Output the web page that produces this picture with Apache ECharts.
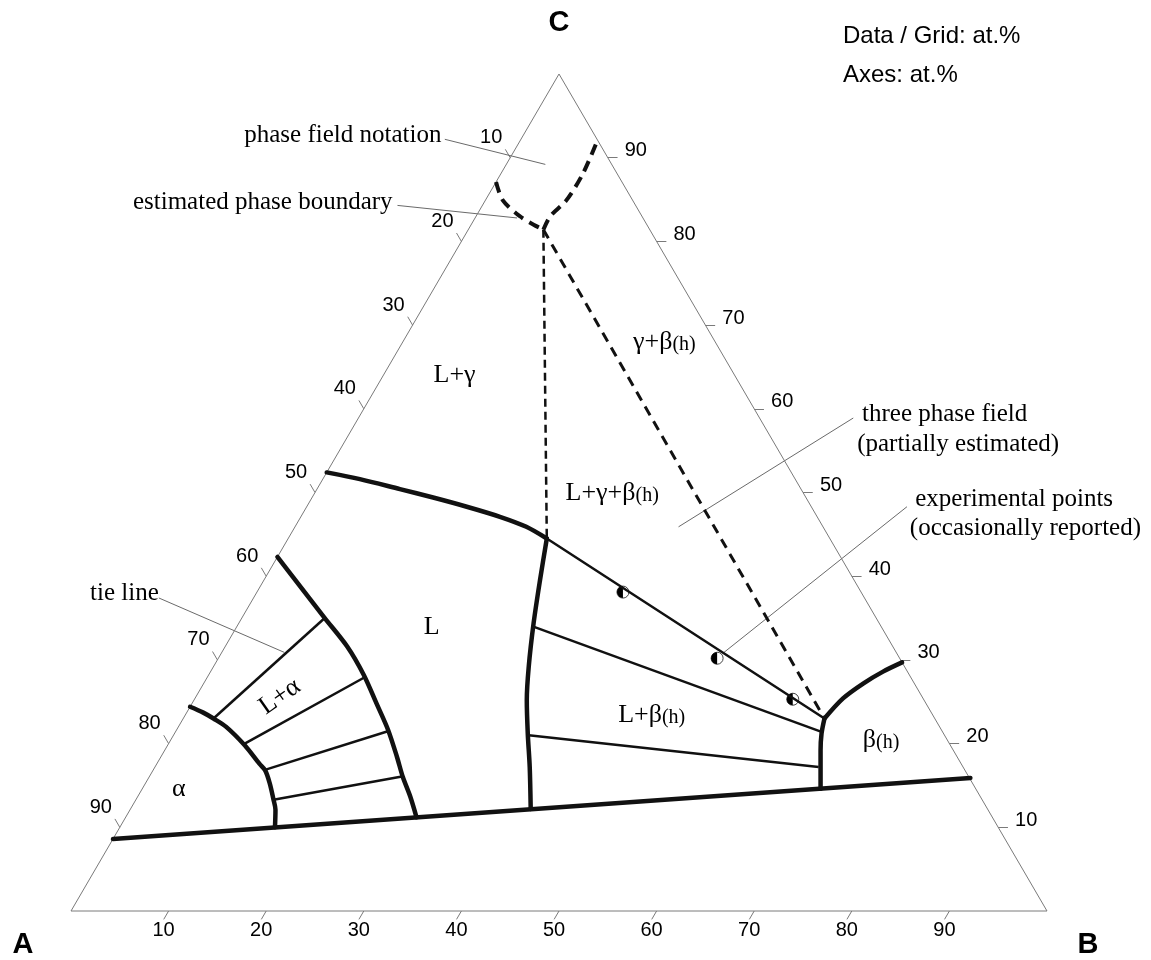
<!DOCTYPE html>
<html>
<head>
<meta charset="utf-8">
<title>Ternary phase diagram</title>
<script src="https://cdn.jsdelivr.net/npm/echarts@6/dist/echarts.min.js"></script>
<style>
    html, body { margin: 0; padding: 0; background: #fff; }
    #chart { width: 1151px; height: 960px; }
</style>
</head>
<body>
<div id="chart"></div>
<script>
// every composition is [B at.%, C at.%]; A = 100 - B - C
const tickValues = [10, 20, 30, 40, 50, 60, 70, 80, 90];
const cornerLabels = ['A', 'B', 'C'];
const cornerPoints = [[0, 0], [100, 0], [0, 100]];

// solid phase boundaries
const solidusBottom = [[0, 8.6], [84.2, 15.9]];
const alphaBoundary = [[0, 24.4], [1.7, 23.7], [3.1, 23.0], [4.9, 22.0], [7.9, 19.8], [10.5, 17.6],
    [11.5, 16.8], [12.7, 15.3], [14.1, 13.3], [14.9, 12.1], [15.9, 10.0]];
const liquidAlpha = [[0, 42.3], [2.8, 39.9], [8.5, 35.0], [12.5, 31.6], [15.9, 28.2], [18.9, 24.8],
    [21.7, 21.6], [24.2, 18.4], [26.0, 16.0], [27.9, 13.7], [29.8, 11.2]];
const liquidGamma = [[0, 52.4], [3.8, 51.6], [8.5, 50.4], [12.4, 49.4], [16.4, 48.3], [20.4, 47.1],
    [23.7, 45.9], [26.5, 44.5]];
const liquidBeta = [[26.5, 44.5], [28.3, 39.5], [30.2, 34.4], [32.3, 29.2], [34.1, 25.2], [36.2, 21.2],
    [38.4, 17.2], [41.0, 12.2]];
const threePhaseEdge = [[26.5, 44.5], [65.7, 23.0]];
const betaUpper = [[70.3, 29.7], [68.9, 28.6], [67.6, 27.2], [66.4, 25.4], [65.7, 23.0]];
const betaLower = [[65.7, 23.0], [66.3, 21.2], [67.2, 19.2], [68.2, 17.2], [69.5, 14.6]];

// tie lines
const alphaTies = [
    [[3.1, 23.0], [8.5, 35.0]],
    [[7.8, 20.0], [16.1, 27.9]],
    [[11.3, 16.8], [21.8, 21.5]],
    [[14.1, 13.3], [26.0, 16.1]]
];
const betaTies = [
    [[30.3, 34.0], [66.2, 21.4]],
    [[36.4, 21.0], [68.0, 17.2]]
];

// estimated (dashed) boundaries
const estVertical = [[7.7, 81.4], [26.5, 44.5]];
const estDiagonal = [[7.7, 81.4], [65.7, 23.0]];
const estLeft = [[0, 87.1], [1.8, 84.9], [4.5, 83.0], [6.4, 82.0], [7.7, 81.4]];
const estRight = [[7.7, 81.4], [7.6, 83.0], [8.3, 84.9], [8.4, 88.1], [7.9, 92.1]];

const expPoints = [[37.5, 38.1], [51.1, 30.2], [61.3, 25.3]];

// annotation leader lines
const leaders = [
    [[-7.8, 92.2], [4.0, 89.2]],
    [[-8.7, 84.3], [4.3, 82.8]],
    [[-9.7, 37.4], [6.4, 30.9]],
    [[50.7, 58.9], [39.3, 45.9]],
    [[61.5, 48.3], [51.4, 30.8]]
];
const noteTexts = ['phase field notation', 'estimated phase boundary', 'tie line',
    'three phase field', '(partially estimated)', 'experimental points', '(occasionally reported)'];
const notePoints = [[-8.4, 92.7], [-9.4, 84.7], [-10.0, 38.0], [51.4, 59.3], [52.7, 55.7], [61.9, 49.2], [63.1, 45.7]];
const noteAlign = ['right', 'right', 'right', 'left', 'left', 'left', 'left'];

// phase field names
const phaseNames = ['{m|L+γ}', '{m|γ+β}{s|(h)}', '{m|L+γ+β}{s|(h)}', '{m|L}', '{m|L+α}', '{m|α}', '{m|L+β}{s|(h)}', '{m|β}{s|(h)}'];
const phasePoints = [[7.3, 64.0], [26.8, 68.0], [30.5, 49.9], [20.0, 33.9], [8.6, 25.6], [3.8, 14.5], [47.8, 23.4], [72.8, 20.4]];
const phaseRotate = [0, 0, 0, 0, 35, 0, 0, 0];

const toXY = p => [p[0] + p[1] / 2, p[1]];

const SERIF = 'Liberation Serif';
const SANS = 'Liberation Sans';
const INK = '#111111';

function curve(pts, width, extra) {
    return Object.assign({
        type: 'line',
        data: pts.map(toXY),
        showSymbol: false,
        symbol: 'none',
        clip: false,
        silent: true,
        lineStyle: { color: INK, width: width, cap: 'round', join: 'round' }
    }, extra || {});
}

function segments(list, color, width) {
    return {
        type: 'lines',
        coordinateSystem: 'cartesian2d',
        polyline: false,
        clip: false,
        silent: true,
        lineStyle: { color: color, width: width, opacity: 1, curveness: 0 },
        data: list.map(s => ({ coords: s.map(toXY) }))
    };
}

// tick marks on each side
const tickMarks = [];
tickValues.forEach(v => {
    tickMarks.push([[v, 0], [v, -1]]); // B axis (bottom)
    tickMarks.push([[100 - v, v], [101 - v, v]]); // C axis (right)
    tickMarks.push([[0, 100 - v], [-1, 101 - v]]); // A axis (left)
});

// invisible anchor points that only carry text
function textLayer(data, label) {
    return {
        type: 'scatter',
        clip: false,
        silent: true,
        symbolSize: 1,
        itemStyle: { color: 'rgba(0,0,0,0)', opacity: 1 },
        label: Object.assign({
            show: true,
            position: 'inside',
            formatter: p => p.name,
            color: '#000',
            textBorderWidth: 0,
            textShadowBlur: 0
        }, label),
        data: data
    };
}

const tickFont = { fontFamily: SANS, fontSize: 20 };

const rich = {
    m: { fontFamily: SERIF, fontSize: 26, color: '#000' },
    s: { fontFamily: SERIF, fontSize: 20, color: '#000', padding: [5, 0, 0, 0] }
};

const option = {
    animation: false,
    backgroundColor: '#ffffff',
    grid: { left: 71, top: 74, width: 976, height: 837 },
    xAxis: { type: 'value', min: 0, max: 100, show: false },
    yAxis: { type: 'value', min: 0, max: 100, show: false },
    graphic: [
        { type: 'text', x: 843, y: 36, style: { text: 'Data / Grid: at.%', font: '24px "Liberation Sans"', fill: '#000', verticalAlign: 'middle' } },
        { type: 'text', x: 843, y: 75, style: { text: 'Axes: at.%', font: '24px "Liberation Sans"', fill: '#000', verticalAlign: 'middle' } }
    ],
    series: [
        curve([[0, 0], [100, 0], [0, 100], [0, 0]], 1, { lineStyle: { color: '#7a7a7a', width: 1 } }),
        segments(tickMarks, '#7a7a7a', 1),
        segments(leaders, '#6a6a6a', 1),
        textLayer(tickValues.map(v => ({ name: String(v), value: toXY([v, 0]) })), Object.assign({ offset: [-5, 19] }, tickFont)),
        textLayer(tickValues.map(v => ({ name: String(v), value: toXY([100 - v, v]) })), Object.assign({ offset: [28, -7] }, tickFont)),
        textLayer(tickValues.map(v => ({ name: String(v), value: toXY([0, 100 - v]) })), Object.assign({ offset: [-19, -20] }, tickFont)),

        curve(solidusBottom, 4.5),
        curve(alphaBoundary, 4.5, { smooth: 0.3 }),
        curve(liquidAlpha, 4.5, { smooth: 0.3 }),
        curve(liquidGamma, 4.5, { smooth: 0.3 }),
        curve(liquidBeta, 4.5, { smooth: 0.3 }),
        curve(betaUpper, 4.5, { smooth: 0.3 }),
        curve(betaLower, 4.5, { smooth: 0.3 }),
        curve(threePhaseEdge, 2.5),
        segments(alphaTies, INK, 2.5),
        segments(betaTies, INK, 2.5),

        curve(estVertical, 2.5, { lineStyle: { color: INK, width: 2.5, type: [8, 5] } }),
        curve(estDiagonal, 3, { lineStyle: { color: INK, width: 3, type: [10, 7] } }),
        curve(estLeft, 4, { smooth: 0.3, lineStyle: { color: INK, width: 4, type: [11, 7] } }),
        curve(estRight, 4, { smooth: 0.3, lineStyle: { color: INK, width: 4, type: [11, 7] } }),

        {
            type: 'scatter',
            clip: false,
            silent: true,
            symbol: 'circle',
            symbolSize: 12,
            itemStyle: { color: '#ffffff', borderColor: '#444', borderWidth: 1, opacity: 1 },
            data: expPoints.map(toXY)
        },
        {
            type: 'scatter',
            clip: false,
            silent: true,
            symbol: 'path://M10,0 A10,10 0 0 0 10,20 Z',
            symbolSize: [6, 12],
            symbolOffset: [-3, 0],
            itemStyle: { color: '#000', opacity: 1 },
            data: expPoints.map(toXY)
        },

        textLayer(noteTexts.map((t, i) => ({
            name: t,
            value: toXY(notePoints[i]),
            label: { align: noteAlign[i] }
        })), { verticalAlign: 'middle', fontFamily: SERIF, fontSize: 25 }),
        textLayer(phaseNames.map((t, i) => ({
            name: t,
            value: toXY(phasePoints[i]),
            label: { rotate: phaseRotate[i] }
        })), { rich: rich }),
        textLayer(cornerLabels.map((t, i) => ({
            name: t,
            value: toXY(cornerPoints[i]),
            label: { offset: [[-48, 34], [41, 34], [0, -51]][i] }
        })), { fontFamily: SANS, fontWeight: 'bold', fontSize: 29 })
    ]
};

const chart = echarts.init(document.getElementById('chart'));
chart.setOption(option);
</script>
</body>
</html>
